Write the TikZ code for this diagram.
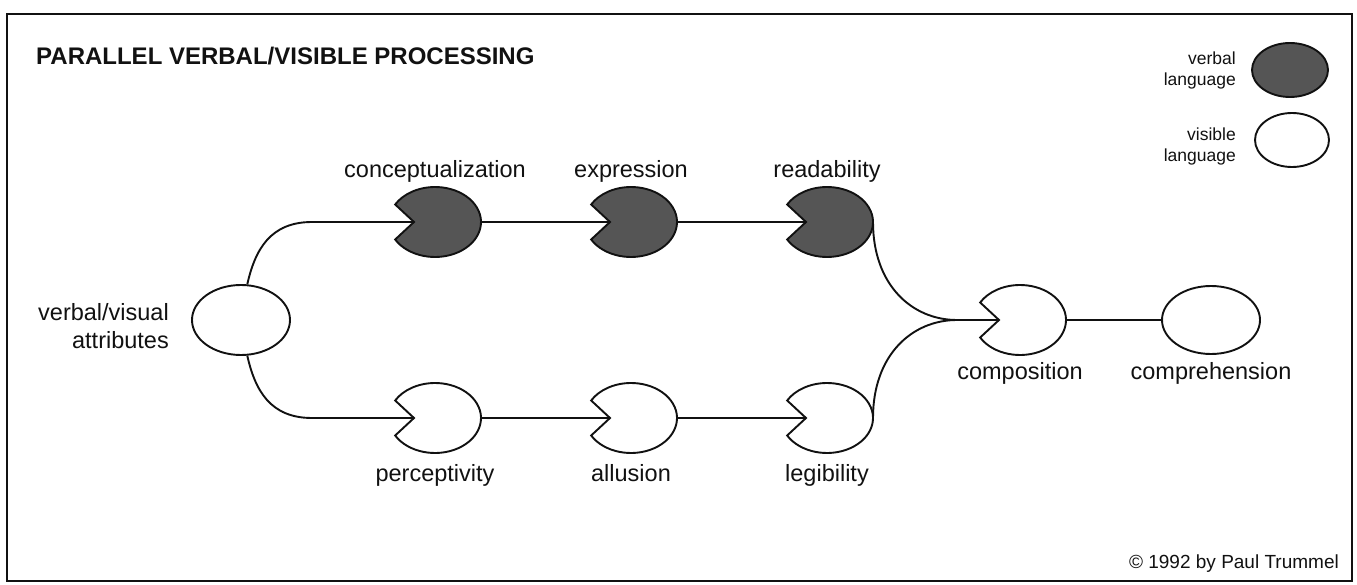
\documentclass[tikz,border=0pt]{standalone}
\usepackage{fontspec}
\setmainfont{Liberation Sans}
\usetikzlibrary{shapes.geometric}
\definecolor{ink}{HTML}{111111}
\definecolor{verbalgray}{HTML}{555555}
\tikzset{verbal/.style={draw=ink,fill=verbalgray,line width=1.9pt},
  visible/.style={draw=ink,fill=white,line width=1.9pt},
  link/.style={draw=ink,line width=1.9pt},
  lbl/.style={font=\fontsize{23.5}{28}\selectfont,text=ink,inner sep=0pt,anchor=base},
  keylbl/.style={font=\fontsize{17.5}{21.5}\selectfont,text=ink,align=right,inner sep=0pt,anchor=base east},
  notch/.pic={
    \path[pic actions] (150:46 and 35) arc[start angle=150,end angle=-150,x radius=46,y radius=35]
      -- (-21,0) -- cycle;
    \coordinate (-in) at (-21,0);
    \coordinate (-out) at (46,0);}}
\begin{document}
\begin{tikzpicture}[x=1pt,y=-1pt]
\useasboundingbox (0,0) rectangle (1357,585);
\draw[line width=2pt,ink] (7,14) rectangle (1352,581);
\node[anchor=base west,inner sep=0pt,text=ink,font=\fontsize{24}{28}\selectfont\bfseries] (title) at (36,65)
  {PARALLEL VERBAL/VISIBLE PROCESSING};
\node[keylbl] (keyverballbl) at (1236,86) {verbal\\language};
\node[ellipse,verbal,minimum width=76pt,minimum height=54pt] (keyverbal) at (1290,70) {};
\node[keylbl] (keyvisiblelbl) at (1236,162) {visible\\language};
\node[ellipse,visible,minimum width=74pt,minimum height=54pt] (keyvisible) at (1292,140) {};
\node[ellipse,visible,minimum width=98pt,minimum height=70pt] (src) at (241,320) {};
\node[lbl,align=right,anchor=base east] (srclbl) at (169,348) {verbal/visual\\attributes};
\foreach \n/\x/\t in {concept/435/conceptualization,expr/631/expression,read/827/readability}{
  \pic[verbal] (\n) at (\x,222) {notch};
  \node[lbl] (\n-lbl) at (\x,178) {\t};}
\foreach \n/\x/\t in {percept/435/perceptivity,allus/631/allusion,legib/827/legibility}{
  \pic[visible] (\n) at (\x,418) {notch};
  \node[lbl] (\n-lbl) at (\x,481) {\t};}
\pic[visible] (comp) at (1020,320) {notch};
\node[lbl] (comp-lbl) at (1020,379) {composition};
\node[ellipse,visible,minimum width=98pt,minimum height=68pt] (compr) at (1211,320) {};
\node[lbl] (compr-lbl) at (1211,379) {comprehension};
\coordinate (merge) at (957,320);
\draw[link] (src.80) .. controls (255,250) and (270,222) .. (312,222) -- (concept-in);
\draw[link] (src.-80) .. controls (255,390) and (270,418) .. (312,418) -- (percept-in);
\draw[link] (concept-out) -- (expr-in);
\draw[link] (expr-out) -- (read-in);
\draw[link] (percept-out) -- (allus-in);
\draw[link] (allus-out) -- (legib-in);
\draw[link] (read-out) .. controls (873,285) and (912,320) .. (merge);
\draw[link] (legib-out) .. controls (873,355) and (912,320) .. (merge);
\draw[link] (merge) -- (comp-in);
\draw[link] (comp-out) -- (compr.west);
\node[anchor=base east,inner sep=0pt,text=ink,font=\fontsize{19}{24}\selectfont] (credit) at (1339,568)
  {\char"00A9\ 1992 by Paul Trummel};
\end{tikzpicture}
\end{document}
